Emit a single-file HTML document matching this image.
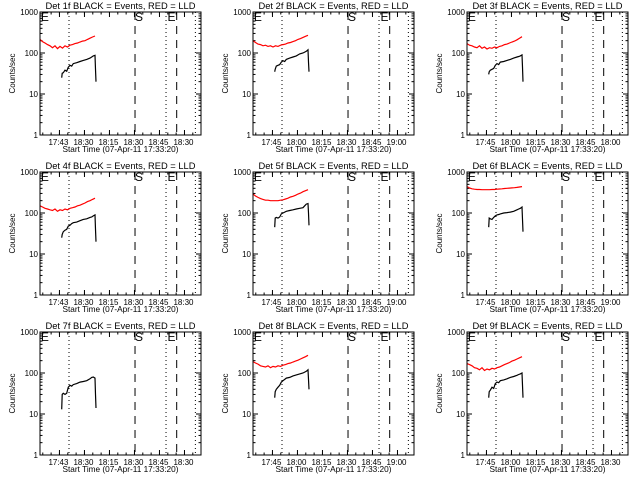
<!DOCTYPE html>
<html><head><meta charset="utf-8"><style>
html,body{margin:0;padding:0;background:#fff;}
svg{display:block;}
text{font-family:"Liberation Sans",sans-serif;fill:#000;}
</style></head><body>
<svg id="chart" width="640" height="480" viewBox="0 0 640 480" xmlns="http://www.w3.org/2000/svg"></svg>
<script>
const detNames = ["1f","2f","3f","4f","5f","6f","7f","8f","9f"];
const tickLabels = [
 ["17:43","18:30","18:15","18:30","18:45","18:30"],
 ["17:45","18:00","18:15","18:30","18:45","19:00"],
 ["17:45","18:00","18:15","18:30","18:45","18:00"],
 ["17:43","18:30","18:15","18:30","18:45","18:30"],
 ["17:45","18:00","18:15","18:30","18:45","19:00"],
 ["17:45","18:00","18:15","18:30","18:45","19:00"],
 ["17:43","18:30","18:15","18:30","18:45","18:30"],
 ["17:45","18:00","18:15","18:30","18:45","19:00"],
 ["17:45","18:00","18:15","18:30","18:45","18:30"]
];
const yTickValues = [1,10,100,1000];
const yTickLabels = ["1","10","100","1000"];
const redTimes = [0,1.5,3,4.5,6,7.5,9,10.5,12,13.5,15,16.5,18,19.5,21,22.5,24,25.5,27,28.5,30,31.5,33];
const red1 = [215,190,175,160,150,135,150,128,145,132,150,140,155,160,170,175,185,195,200,215,230,245,260];
const red2 = [200,180,165,160,150,155,145,150,140,150,145,155,160,165,175,180,190,200,215,225,240,255,270];
const red3 = [170,155,150,140,135,150,130,140,125,135,130,140,135,145,150,160,165,175,185,195,210,230,250];
const red4 = [150,140,130,125,120,115,125,110,120,115,125,120,130,135,140,150,155,165,175,190,200,215,230];
const red5 = [290,260,240,225,215,205,205,200,200,200,200,205,210,220,230,245,255,270,290,305,330,350,370];
const red6 = [440,410,390,380,375,375,370,370,370,370,375,375,380,385,390,395,400,405,410,415,420,430,440];
const red7 = [1200,1400,1100,1500,1300,1050,1400,1600,1300,1500,1700,1600,1800,1700,1900,2000,2100,2000,2200,2300,2400,2500,2600];
const red8 = [190,175,165,150,145,140,150,135,145,140,150,145,155,160,170,175,185,195,205,220,235,250,270];
const red9 = [170,160,150,135,130,120,135,115,125,120,130,125,135,140,150,160,170,180,195,205,220,235,250];
const blackTimes = [13,13.3,14,15,16,17,18,19,20,22,24,26,28,30,31,32,33,33.3,33.6];
const black1 = [25,32,33,38,36,45,50,48,55,58,62,66,70,75,80,85,88,40,20];
const black2 = [35,40,48,50,52,60,65,62,70,75,80,85,95,100,105,110,120,60,35];
const black3 = [30,35,38,40,42,50,55,52,60,62,66,70,75,80,82,85,90,45,20];
const black4 = [25,30,35,38,40,48,50,55,58,60,65,70,72,78,80,85,90,40,20];
const black5 = [45,75,78,75,80,95,100,105,110,115,120,125,130,135,150,165,170,100,50];
const black6 = [45,75,72,70,78,85,90,92,95,100,102,105,110,120,125,130,140,70,35];
const black7 = [13,30,32,30,32,45,50,48,52,55,60,62,65,72,78,80,75,30,14];
const black8 = [25,35,40,45,50,60,65,70,75,78,85,90,95,100,105,110,120,70,40];
const black9 = [25,35,38,45,42,55,60,58,65,68,72,78,82,88,92,95,100,50,25];
const redSeries = [red1,red2,red3,red4,red5,red6,red7,red8,red9];
const blackSeries = [black1,black2,black3,black4,black5,black6,black7,black8,black9];
const majorTickTimes = [11.67,26.67,41.67,56.67,71.67,86.67];
const dottedTimes = [17.4,75.6,93.2];
const dashedTimes = [57,82];
const markerLabels = [["E",0.5],["S",57],["E",76.5]];

const svg = document.getElementById('chart');
const NS = 'http://www.w3.org/2000/svg';
function mk(tag, attrs, parent){const e=document.createElementNS(NS,tag);for(const k in attrs)e.setAttribute(k,attrs[k]);(parent||svg).appendChild(e);return e;}
const L=40,R=201,T=12,B=135,PXM=1.667;
function xs(t){return L+t*PXM;}
function ys(v){return B-41*Math.log10(v);}

for(let p=0;p<9;p++){
  const ox=Math.round((p%3)*213.33), oy=Math.floor(p/3)*160;
  const g=mk('g',{transform:`translate(${ox},${oy})`});
  
  
  const cp=mk('clipPath',{id:'c'+p},g);mk('rect',{x:L,y:T,width:R-L,height:B-T},cp);
  const title=mk('text',{x:(L+R)/2,y:9,'font-size':'9','text-anchor':'middle',textLength:'150',lengthAdjust:'spacingAndGlyphs'},g);
  title.textContent='Det '+detNames[p]+' BLACK = Events, RED = LLD';
  
  
  const yl=mk('text',{x:0,y:0,'font-size':'8','text-anchor':'middle',transform:`translate(15,${(T+B)/2}) rotate(-90)`},g);
  yl.textContent='Counts/sec';
  
  
  const xl=mk('text',{x:(L+R)/2,y:152,'font-size':'8.5','text-anchor':'middle',textLength:'116',lengthAdjust:'spacingAndGlyphs'},g);
  xl.textContent='Start Time (07-Apr-11 17:33:20)';
  
  
  for(let d=0;d<yTickValues.length;d++){
    const y=ys(yTickValues[d]);
    mk('line',{x1:L,x2:L+5,y1:y,y2:y,stroke:'#000'},g);
    mk('line',{x1:R-5,x2:R,y1:y,y2:y,stroke:'#000'},g);
    const tl=mk('text',{x:L-2,y:y+3,'font-size':'8','text-anchor':'end'},g);
    tl.textContent=yTickLabels[d];
    
    
    if(d<yTickValues.length-1){for(let m=2;m<10;m++){const ym=ys(yTickValues[d]*m);
      mk('line',{x1:L,x2:L+2.5,y1:ym,y2:ym,stroke:'#000'},g);mk('line',{x1:R-2.5,x2:R,y1:ym,y2:ym,stroke:'#000'},g);}}
  }
  for(let i=0;i<majorTickTimes.length;i++){
    const x=xs(majorTickTimes[i]);
    mk('line',{x1:x,x2:x,y1:B,y2:B-5,stroke:'#000'},g);
    mk('line',{x1:x,x2:x,y1:T,y2:T+5,stroke:'#000'},g);
    const tl=mk('text',{x:x-1,y:145,'font-size':'8','text-anchor':'middle'},g);
    tl.textContent=tickLabels[p][i];
    
    
  }
  for(let t=1.67;t<96;t+=5){const x=xs(t);mk('line',{x1:x,x2:x,y1:B,y2:B-2.5,stroke:'#000'},g);mk('line',{x1:x,x2:x,y1:T,y2:T+2.5,stroke:'#000'},g);}
  for(const t of dottedTimes){const l=mk('line',{x1:xs(t),x2:xs(t),y1:T,y2:B,stroke:'#000','stroke-dasharray':'1,3'},g);
    }
  for(const t of dashedTimes){const l=mk('line',{x1:xs(t),x2:xs(t),y1:T,y2:B,stroke:'#000','stroke-dasharray':'8,6'},g);
    }
  for(const m of markerLabels){const tx=mk('text',{x:xs(m[1]),y:T+9,'font-size':'12'},g);tx.textContent=m[0];
    }
  const rp=redTimes.map((t,i)=>xs(t).toFixed(1)+','+ys(redSeries[p][i]).toFixed(1)).join(' ');
  const rl=mk('polyline',{points:rp,fill:'none',stroke:'#f00','stroke-width':'1.2','clip-path':`url(#c${p})`},g);
  
  const bp=blackTimes.map((t,i)=>xs(t).toFixed(1)+','+ys(blackSeries[p][i]).toFixed(1)).join(' ');
  const bl=mk('polyline',{points:bp,fill:'none',stroke:'#000','stroke-width':'1.2','clip-path':`url(#c${p})`},g);
  
  const box=mk('rect',{x:L,y:T,width:R-L,height:B-T,fill:'none',stroke:'#000'},g);
  
}
</script>
</body></html>
